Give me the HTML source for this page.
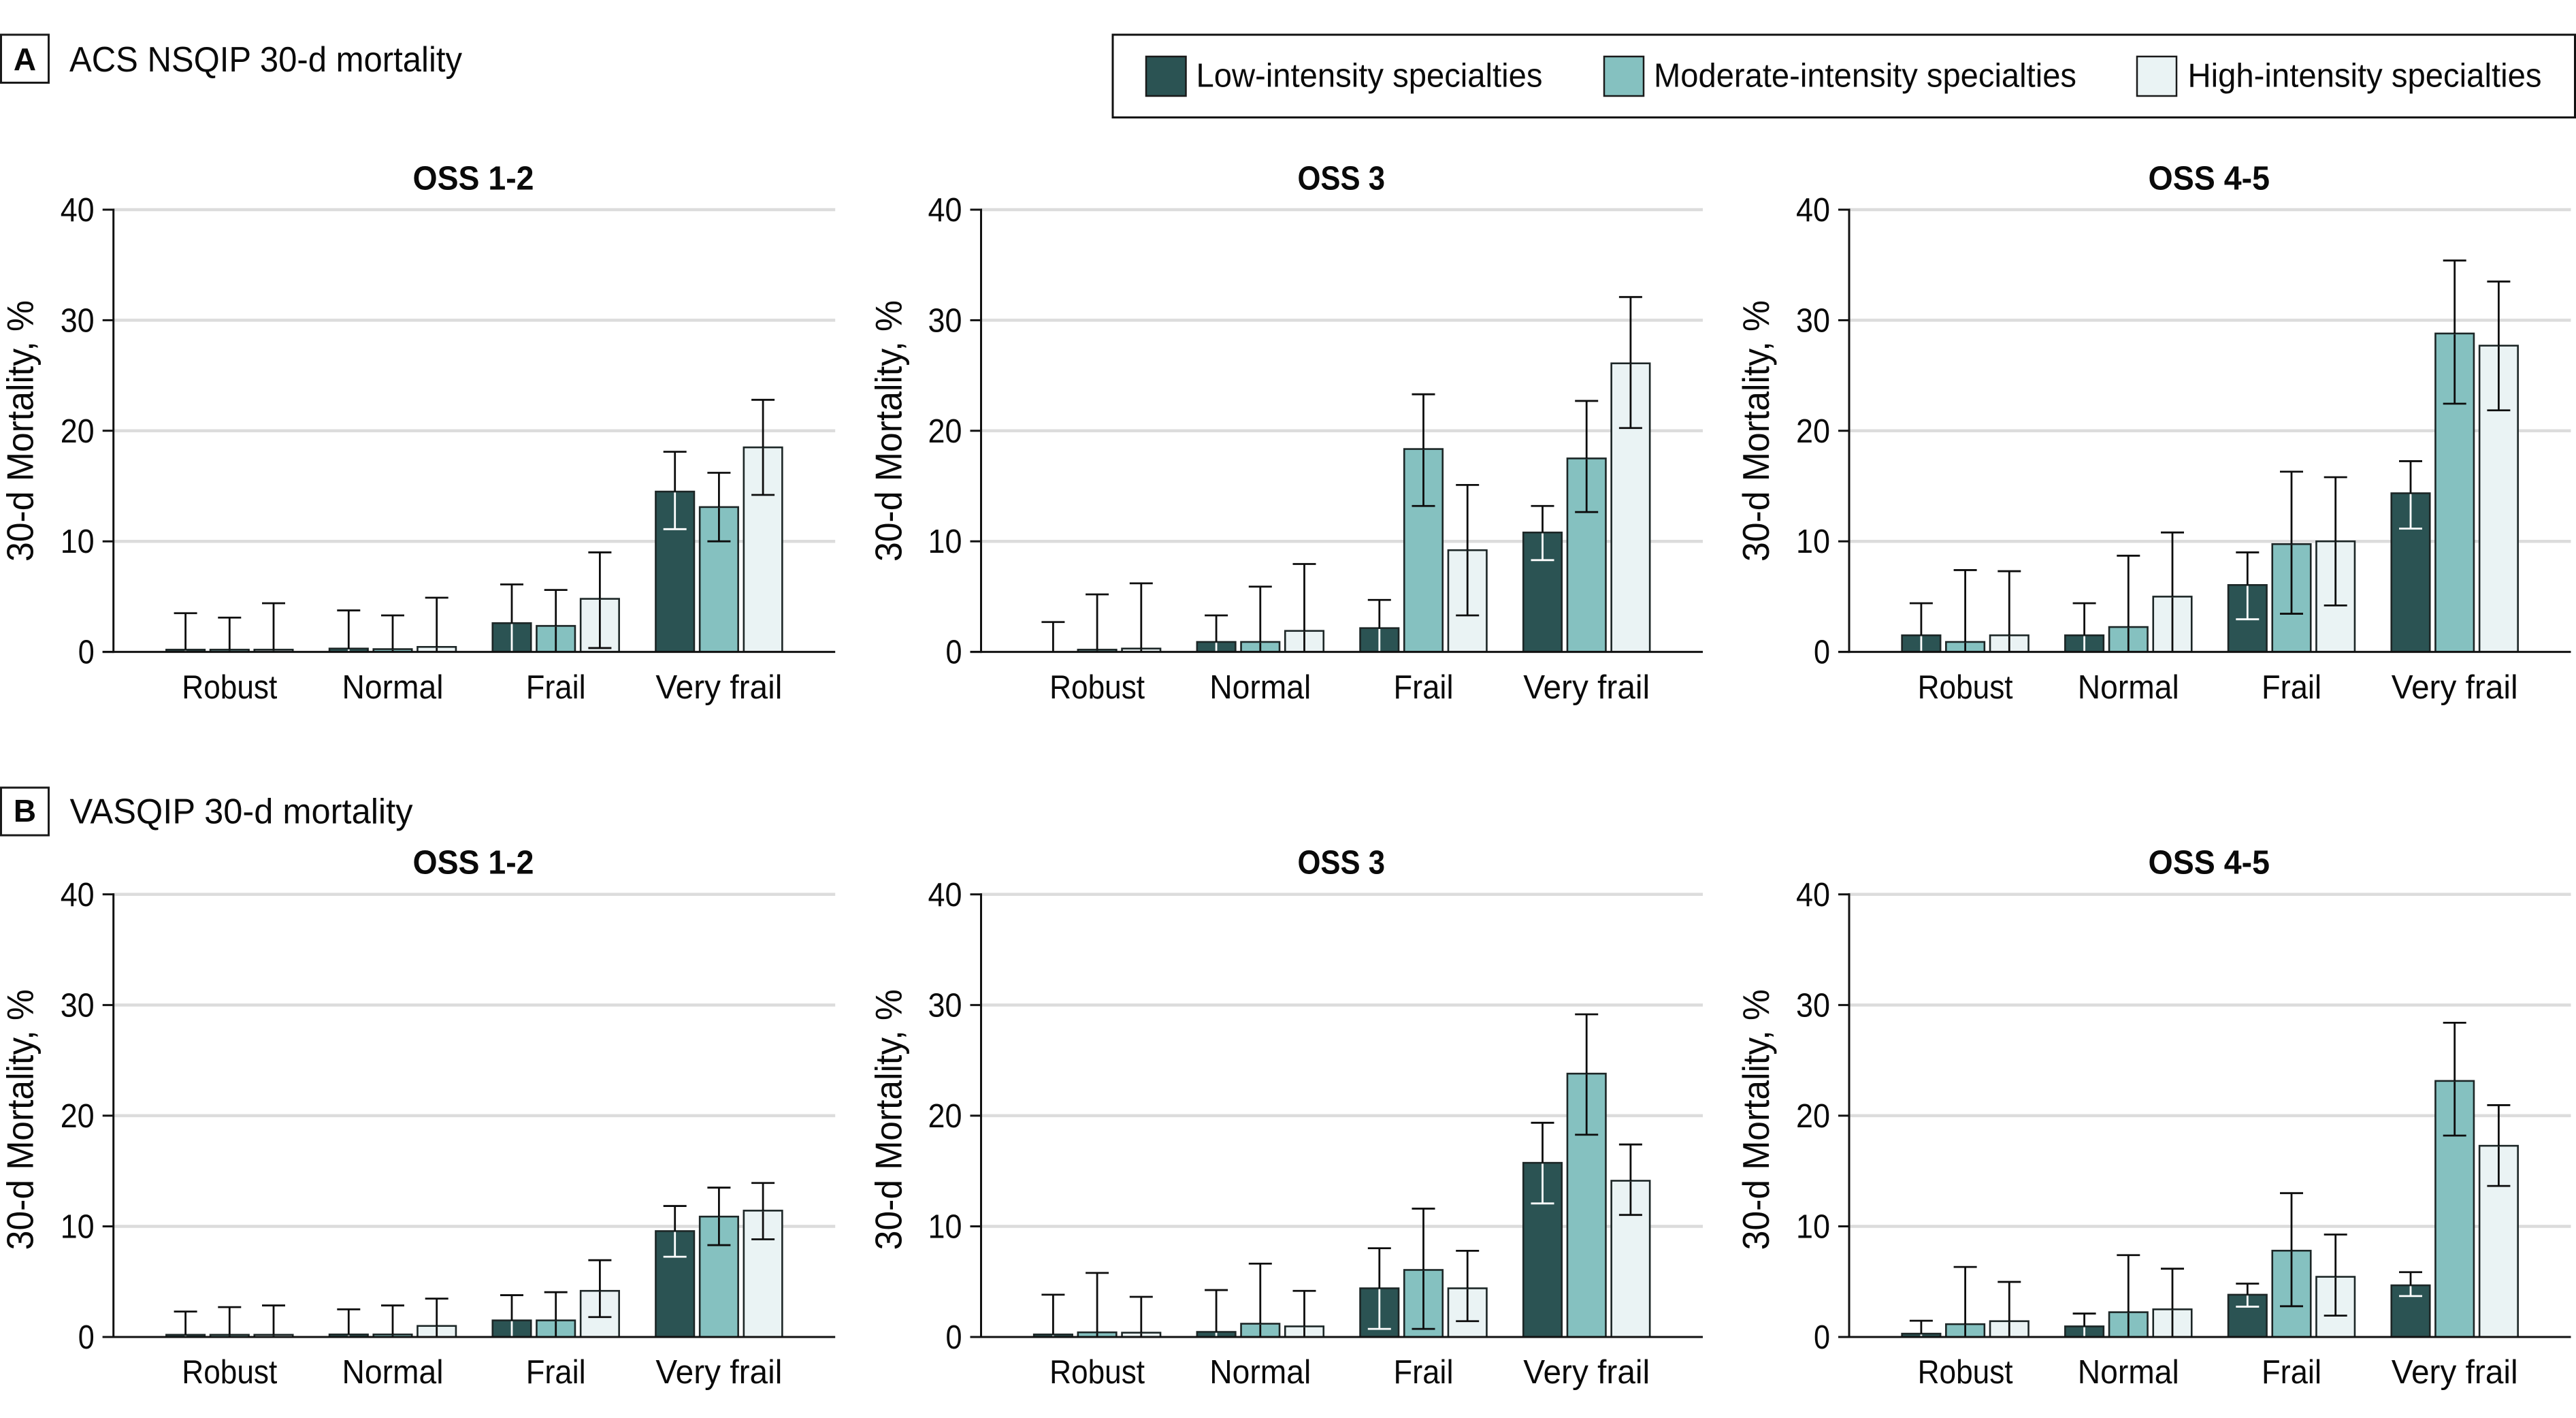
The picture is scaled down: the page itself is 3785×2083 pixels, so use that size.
<!DOCTYPE html>
<html lang="en">
<head>
<meta charset="utf-8">
<title>30-d mortality by frailty and specialty intensity</title>
<style>
html,body{margin:0;padding:0;background:#fff;}
svg{display:block;}
text{font-family:"Liberation Sans",sans-serif;fill:#0a0a0a;}
.hdr{font-size:52px;}
.lett{font-size:46px;font-weight:bold;}
.leg{font-size:49px;}
.ttl{font-size:49px;font-weight:bold;}
.ylab{font-size:55px;}
.tick{font-size:49px;}
</style>
</head>
<body>
<svg id="chart" xmlns="http://www.w3.org/2000/svg" width="3785" height="2083" viewBox="0 0 3785 2083">
  <rect width="3785" height="2083" fill="#fff"/>

  <g>
    <rect x="1.5" y="51" width="70" height="70.5" fill="#fff" stroke="#1a1a1a" stroke-width="3"/>
    <text class="lett" x="36.5" y="103" text-anchor="middle">A</text>
    <text class="hdr" x="102" y="105" textLength="577" lengthAdjust="spacingAndGlyphs">ACS NSQIP 30-d mortality</text>
  </g>
  <g>
    <rect x="1.5" y="1157" width="70" height="70" fill="#fff" stroke="#1a1a1a" stroke-width="3"/>
    <text class="lett" x="36.5" y="1207" text-anchor="middle">B</text>
    <text class="hdr" x="102.5" y="1209.7" textLength="504" lengthAdjust="spacingAndGlyphs">VASQIP 30-d mortality</text>
  </g>

  <g>
    <rect x="1635" y="51" width="2148.5" height="121.5" fill="#fff" stroke="#111" stroke-width="3"/>
    <rect x="1684" y="83" width="58.5" height="58" fill="#2b5353" stroke="#1a1a1a" stroke-width="2.5"/>
    <text class="leg" x="1757.5" y="127.7" textLength="509" lengthAdjust="spacingAndGlyphs">Low-intensity specialties</text>
    <rect x="2357" y="83" width="58" height="58" fill="#85c1c0" stroke="#1a1a1a" stroke-width="2.5"/>
    <text class="leg" x="2430" y="127.7" textLength="621" lengthAdjust="spacingAndGlyphs">Moderate-intensity specialties</text>
    <rect x="3140" y="83" width="58" height="58" fill="#eaf3f4" stroke="#1a1a1a" stroke-width="2.5"/>
    <text class="leg" x="3214.5" y="127.7" textLength="520" lengthAdjust="spacingAndGlyphs">High-intensity specialties</text>
  </g>

  <g>
    <text class="ttl" x="606.5" y="278.5" textLength="178" lengthAdjust="spacingAndGlyphs">OSS 1-2</text>
    <text class="ttl" x="1906.5" y="278.5" textLength="128.5" lengthAdjust="spacingAndGlyphs">OSS 3</text>
    <text class="ttl" x="3156.5" y="278.5" textLength="178.5" lengthAdjust="spacingAndGlyphs">OSS 4-5</text>
    <text class="ttl" x="606.5" y="1283.7" textLength="178" lengthAdjust="spacingAndGlyphs">OSS 1-2</text>
    <text class="ttl" x="1906.5" y="1283.7" textLength="128.5" lengthAdjust="spacingAndGlyphs">OSS 3</text>
    <text class="ttl" x="3156.5" y="1283.7" textLength="178.5" lengthAdjust="spacingAndGlyphs">OSS 4-5</text>
  </g>

  <g>
    <text class="ylab" transform="translate(48.5 633) rotate(-90)" text-anchor="middle" textLength="384" lengthAdjust="spacingAndGlyphs">30-d Mortality, %</text>
    <text class="ylab" transform="translate(1324.5 633) rotate(-90)" text-anchor="middle" textLength="384" lengthAdjust="spacingAndGlyphs">30-d Mortality, %</text>
    <text class="ylab" transform="translate(2599 633) rotate(-90)" text-anchor="middle" textLength="384" lengthAdjust="spacingAndGlyphs">30-d Mortality, %</text>
    <text class="ylab" transform="translate(48.5 1644.7) rotate(-90)" text-anchor="middle" textLength="383" lengthAdjust="spacingAndGlyphs">30-d Mortality, %</text>
    <text class="ylab" transform="translate(1324.5 1644.7) rotate(-90)" text-anchor="middle" textLength="383" lengthAdjust="spacingAndGlyphs">30-d Mortality, %</text>
    <text class="ylab" transform="translate(2599 1644.7) rotate(-90)" text-anchor="middle" textLength="383" lengthAdjust="spacingAndGlyphs">30-d Mortality, %</text>
  </g>

  <g id="panels"></g>
</svg>

<script>
// ---- Shared labels ----
const categories = ['Robust', 'Normal', 'Frail', 'Very frail'];
const seriesKeys = ['low', 'moderate', 'high'];
const yTickValues = [0, 10, 20, 30, 40];

// ---- Data: each array lists [Robust, Normal, Frail, Very frail] ----
// Panel A, OSS 1-2
const aOss12LowValue = [0.2, 0.3, 2.6, 14.5];
const aOss12LowUpper = [3.5, 3.75, 6.1, 18.1];
const aOss12LowLower = [0, 0, 0, 11.1];
const aOss12ModValue = [0.2, 0.25, 2.35, 13.1];
const aOss12ModUpper = [3.1, 3.3, 5.6, 16.2];
const aOss12ModLower = [0, 0, 0, 10.0];
const aOss12HighValue = [0.2, 0.45, 4.8, 18.5];
const aOss12HighUpper = [4.4, 4.9, 9.0, 22.8];
const aOss12HighLower = [0, 0, 0.35, 14.2];
// Panel A, OSS 3
const aOss3LowValue = [0, 0.9, 2.15, 10.8];
const aOss3LowUpper = [2.7, 3.3, 4.7, 13.2];
const aOss3LowLower = [0, 0, 0, 8.3];
const aOss3ModValue = [0.2, 0.9, 18.35, 17.5];
const aOss3ModUpper = [5.2, 5.9, 23.3, 22.7];
const aOss3ModLower = [0, 0, 13.2, 12.65];
const aOss3HighValue = [0.3, 1.9, 9.2, 26.1];
const aOss3HighUpper = [6.2, 7.95, 15.1, 32.1];
const aOss3HighLower = [0, 0, 3.3, 20.25];
// Panel A, OSS 4-5
const aOss45LowValue = [1.5, 1.5, 6.05, 14.35];
const aOss45LowUpper = [4.4, 4.4, 9.0, 17.25];
const aOss45LowLower = [0, 0, 2.95, 11.15];
const aOss45ModValue = [0.9, 2.25, 9.75, 28.8];
const aOss45ModUpper = [7.4, 8.7, 16.3, 35.4];
const aOss45ModLower = [0, 0, 3.45, 22.45];
const aOss45HighValue = [1.5, 5.0, 10.0, 27.7];
const aOss45HighUpper = [7.3, 10.8, 15.8, 33.5];
const aOss45HighLower = [0, 0, 4.2, 21.85];
// Panel B, OSS 1-2
const bOss12LowValue = [0.2, 0.23, 1.5, 9.57];
const bOss12LowUpper = [2.3, 2.5, 3.78, 11.84];
const bOss12LowLower = [0, 0, 0, 7.25];
const bOss12ModValue = [0.2, 0.23, 1.5, 10.88];
const bOss12ModUpper = [2.7, 2.85, 4.05, 13.5];
const bOss12ModLower = [0, 0, 0, 8.3];
const bOss12HighValue = [0.2, 1.0, 4.17, 11.42];
const bOss12HighUpper = [2.85, 3.47, 6.94, 13.92];
const bOss12HighLower = [0, 0, 1.8, 8.83];
// Panel B, OSS 3
const bOss3LowValue = [0.23, 0.46, 4.4, 15.74];
const bOss3LowUpper = [3.82, 4.24, 8.02, 19.36];
const bOss3LowLower = [0, 0, 0.73, 12.07];
const bOss3ModValue = [0.42, 1.2, 6.06, 23.8];
const bOss3ModUpper = [5.79, 6.63, 11.6, 29.16];
const bOss3ModLower = [0, 0, 0.73, 18.28];
const bOss3HighValue = [0.39, 0.96, 4.4, 14.12];
const bOss3HighUpper = [3.63, 4.17, 7.79, 17.4];
const bOss3HighLower = [0, 0, 1.43, 11.03];
// Panel B, OSS 4-5
const bOss45LowValue = [0.3, 0.96, 3.82, 4.67];
const bOss45LowUpper = [1.47, 2.12, 4.82, 5.86];
const bOss45LowLower = [0, 0, 2.74, 3.7];
const bOss45ModValue = [1.16, 2.24, 7.8, 23.14];
const bOss45ModUpper = [6.33, 7.4, 13.0, 28.4];
const bOss45ModLower = [0, 0, 2.78, 18.2];
const bOss45HighValue = [1.43, 2.5, 5.44, 17.28];
const bOss45HighUpper = [4.98, 6.17, 9.26, 20.95];
const bOss45HighLower = [0, 0, 1.93, 13.65];

// ---- Layout (pixels) ----
const columnLeft = [166.7, 1441.5, 2717];
const plotWidth = 1060.5;
const rowTop = [308, 1313.8];
const rowBottom = [957.6, 1964];
const labelBaseline = [1026, 2032];
const groupFirstOffset = 170.6;
const groupStep = 239.7;
const barStep = 64.7;
const barWidth = 56.5;
const capHalf = 17;
const barFill = {low: '#2b5353', moderate: '#85c1c0', high: '#eaf3f4'};

const panelList = [
  {id: 'a-oss-1-2', row: 0, col: 0, val: [aOss12LowValue, aOss12ModValue, aOss12HighValue], up: [aOss12LowUpper, aOss12ModUpper, aOss12HighUpper], lo: [aOss12LowLower, aOss12ModLower, aOss12HighLower]},
  {id: 'a-oss-3', row: 0, col: 1, val: [aOss3LowValue, aOss3ModValue, aOss3HighValue], up: [aOss3LowUpper, aOss3ModUpper, aOss3HighUpper], lo: [aOss3LowLower, aOss3ModLower, aOss3HighLower]},
  {id: 'a-oss-4-5', row: 0, col: 2, val: [aOss45LowValue, aOss45ModValue, aOss45HighValue], up: [aOss45LowUpper, aOss45ModUpper, aOss45HighUpper], lo: [aOss45LowLower, aOss45ModLower, aOss45HighLower]},
  {id: 'b-oss-1-2', row: 1, col: 0, val: [bOss12LowValue, bOss12ModValue, bOss12HighValue], up: [bOss12LowUpper, bOss12ModUpper, bOss12HighUpper], lo: [bOss12LowLower, bOss12ModLower, bOss12HighLower]},
  {id: 'b-oss-3', row: 1, col: 1, val: [bOss3LowValue, bOss3ModValue, bOss3HighValue], up: [bOss3LowUpper, bOss3ModUpper, bOss3HighUpper], lo: [bOss3LowLower, bOss3ModLower, bOss3HighLower]},
  {id: 'b-oss-4-5', row: 1, col: 2, val: [bOss45LowValue, bOss45ModValue, bOss45HighValue], up: [bOss45LowUpper, bOss45ModUpper, bOss45HighUpper], lo: [bOss45LowLower, bOss45ModLower, bOss45HighLower]}
];

const svgNS = 'http://www.w3.org/2000/svg';
const root = document.getElementById('panels');

function make(tag, attrs, parent) {
  const el = document.createElementNS(svgNS, tag);
  for (const k in attrs) el.setAttribute(k, attrs[k]);
  parent.appendChild(el);
  return el;
}
function makeLine(x1, y1, x2, y2, color, width, parent) {
  return make('line', {x1: x1, y1: y1, x2: x2, y2: y2, stroke: color, 'stroke-width': width}, parent);
}

panelList.forEach(function (p) {
  const left = columnLeft[p.col];
  const right = left + plotWidth;
  const top = rowTop[p.row];
  const bottom = rowBottom[p.row];
  const yScale = function (v) { return bottom - (v / 40) * (bottom - top); };
  const groupCenter = function (i) { return left + groupFirstOffset + i * groupStep; };
  const barCenter = function (i, s) { return groupCenter(i) + (s - 1) * barStep; };

  const g = make('g', {}, root);
  
  

  // Gridlines
  yTickValues.forEach(function (t) {
    if (t === 0) return;
    const grid = makeLine(left, yScale(t), right, yScale(t), '#dcdcdc', 4.5, g);
    
    
  });

  // Bars
  seriesKeys.forEach(function (key, s) {
    categories.forEach(function (cat, i) {
      const v = p.val[s][i];
      if (v <= 0) return;
      const bar = make('rect', {
        x: barCenter(i, s) - barWidth / 2,
        y: yScale(v),
        width: barWidth,
        height: bottom - yScale(v),
        fill: barFill[key],
        stroke: '#1c2626',
        'stroke-width': 2.6
      }, g);
      
      
    });
  });

  // Error bars
  seriesKeys.forEach(function (key, s) {
    categories.forEach(function (cat, i) {
      const cx = barCenter(i, s);
      const v = p.val[s][i];
      const up = p.up[s][i];
      const lo = p.lo[s][i];
      const lowerColor = key === 'low' ? '#ffffff' : '#0d0d0d';
      const eg = make('g', {}, g);
      
      
      makeLine(cx, yScale(up), cx, yScale(v), '#0d0d0d', 2.8, eg);
      makeLine(cx - capHalf, yScale(up), cx + capHalf, yScale(up), '#0d0d0d', 2.8, eg);
      if (v > 0) {
        makeLine(cx, yScale(v) + 1.3, cx, yScale(lo), lowerColor, 2.8, eg);
      }
      if (lo > 0) {
        makeLine(cx - capHalf, yScale(lo), cx + capHalf, yScale(lo), lowerColor, 2.8, eg);
      }
    });
  });

  // Axes
  const yAxis = makeLine(left, top - 1.5, left, bottom + 1.5, '#111', 3, g);
  
  
  const xAxis = makeLine(left - 16, bottom, right, bottom, '#111', 3, g);
  
  

  // Y ticks + labels
  yTickValues.forEach(function (t) {
    const tick = makeLine(left - 16, yScale(t), left, yScale(t), '#111', 3, g);
    
    
    const lab = make('text', {
      class: 'tick',
      x: left - 28,
      y: yScale(t) + 17,
      'text-anchor': 'end',
      textLength: String(t).length === 1 ? 24 : 50,
      lengthAdjust: 'spacingAndGlyphs'
    }, g);
    lab.textContent = String(t);
    
    
  });

  // Category labels
  const labelWidths = [140, 149, 88, 186];
  categories.forEach(function (cat, i) {
    const lab = make('text', {
      class: 'tick',
      x: groupCenter(i),
      y: labelBaseline[p.row],
      'text-anchor': 'middle',
      textLength: labelWidths[i],
      lengthAdjust: 'spacingAndGlyphs'
    }, g);
    lab.textContent = cat;
    
    
  });
});
</script>
</body>
</html>
